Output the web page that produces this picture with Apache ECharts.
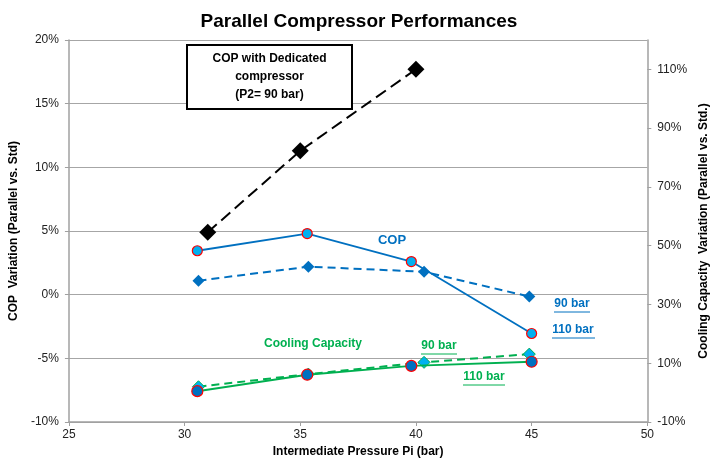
<!DOCTYPE html>
<html>
<head>
<meta charset="utf-8">
<script src="https://cdn.jsdelivr.net/npm/echarts@6/dist/echarts.min.js"></script>
<style>
  html, body { margin: 0; padding: 0; background: #fff; }
  #chart { width: 718px; height: 465px; }
</style>
</head>
<body>
<div id="chart"></div>
<script>
// pressure (bar) and variation (%)
var xDedicated = [31.0, 35.0, 40.0];
var copDedicated = [4.9, 11.3, 17.7];

var xCop110 = [30.55, 35.3, 39.8, 45.0];
var cop110 = [3.45, 4.8, 2.6, -3.05];
var xCop90 = [30.6, 35.35, 40.35, 44.9];
var cop90 = [1.1, 2.2, 1.8, -0.15];

var xCap110 = [30.55, 35.3, 39.8, 45.0];
var cap110 = [0.5, 6.1, 9.1, 10.5];
var xCap90 = [30.6, 35.35, 40.35, 44.9];
var cap90 = [2.0, 6.3, 10.3, 13.1];

var rightTicks = [-10, 10, 30, 50, 70, 90, 110];

function pairs(xs, ys) {
    return xs.map(function (x, i) { return [x, ys[i]]; });
}

var font = 'Liberation Sans, Arial, sans-serif';
var blue = '#0070c0';
var green = '#00b050';

(function () {
    var chart = echarts.init(document.getElementById('chart'));
    var option = {
        animation: false,
        textStyle: { fontFamily: font },
        title: {
            text: 'Parallel Compressor Performances',
            left: 'center',
            top: 7,
            textStyle: { fontSize: 19, fontWeight: 'bold', color: '#000', fontFamily: font }
        },
        grid: { left: 68, right: 61, top: 40, bottom: 43 },
        xAxis: {
            type: 'value',
            min: 25, max: 50, interval: 5,
            name: 'Intermediate Pressure Pi (bar)',
            nameLocation: 'middle',
            nameGap: 21,
            nameTextStyle: { fontSize: 12, fontWeight: 'bold', color: '#000' },
            axisLine: { onZero: false, lineStyle: { color: '#a0a0a0', width: 1.5 } },
            axisTick: { show: true, length: 4, lineStyle: { color: '#a0a0a0' } },
            axisLabel: { fontSize: 12, color: '#222', margin: 7 },
            splitLine: { show: false }
        },
        yAxis: [
            {
                type: 'value',
                min: -10, max: 20, interval: 5,
                name: 'COP  Variation (Parallel vs. Std)',
                nameLocation: 'middle',
                nameGap: 46,
                nameTextStyle: { fontSize: 12, fontWeight: 'bold', color: '#000' },
                axisLine: { show: true, onZero: false, lineStyle: { color: '#a0a0a0', width: 1.5 } },
                axisTick: { show: true, length: 4, lineStyle: { color: '#a0a0a0' } },
                axisLabel: { fontSize: 12, color: '#222', formatter: '{value}%', margin: 10 },
                splitLine: { show: true, lineStyle: { color: '#a6a6a6', width: 1.2 } }
            },
            {
                type: 'value',
                min: -10, max: 120,
                position: 'right',
                name: 'Cooling Capacity  Variation (Parallel vs. Std.)',
                nameLocation: 'middle',
                nameGap: 49,
                nameRotate: 90,
                nameTextStyle: { fontSize: 12, fontWeight: 'bold', color: '#000' },
                axisLine: { show: true, onZero: false, lineStyle: { color: '#a0a0a0', width: 1.5 } },
                axisTick: { show: true, length: 4, customValues: rightTicks, lineStyle: { color: '#a0a0a0' } },
                axisLabel: { fontSize: 12, color: '#222', formatter: '{value}%', margin: 10, customValues: rightTicks },
                splitLine: { show: false }
            }
        ],
        series: [
            {
                name: 'COP dedicated',
                type: 'line',
                yAxisIndex: 0,
                data: pairs(xDedicated, copDedicated),
                symbol: 'diamond',
                symbolSize: 17,
                itemStyle: { color: '#000' },
                lineStyle: { color: '#000', width: 2, type: [12, 6] },
                z: 3
            },
            {
                name: 'COP 90 bar',
                type: 'line',
                yAxisIndex: 0,
                data: pairs(xCop90, cop90),
                symbol: 'diamond',
                symbolSize: 12,
                itemStyle: { color: blue },
                lineStyle: { color: blue, width: 2, type: [8, 5] },
                z: 4
            },
            {
                name: 'COP 110 bar',
                type: 'line',
                yAxisIndex: 0,
                data: pairs(xCop110, cop110),
                symbol: 'circle',
                symbolSize: 10,
                itemStyle: { color: '#00b0f0', borderColor: '#ff0000', borderWidth: 1.2 },
                lineStyle: { color: blue, width: 1.8 },
                z: 5
            },
            {
                name: 'Capacity 90 bar',
                type: 'line',
                yAxisIndex: 1,
                data: pairs(xCap90, cap90),
                symbol: 'diamond',
                symbolSize: 12,
                itemStyle: { color: '#00b0f0', borderColor: green, borderWidth: 1 },
                lineStyle: { color: green, width: 2, type: [8, 5] },
                z: 4
            },
            {
                name: 'Capacity 110 bar',
                type: 'line',
                yAxisIndex: 1,
                data: pairs(xCap110, cap110),
                symbol: 'circle',
                symbolSize: 11,
                itemStyle: { color: blue, borderColor: '#ff0000', borderWidth: 1.2 },
                lineStyle: { color: green, width: 2 },
                z: 5
            }
        ],
        graphic: [
            {
                type: 'rect',
                shape: { x: 187, y: 45, width: 165, height: 64 },
                style: { fill: '#fff', stroke: '#000', lineWidth: 2 },
                z: 10
            },
            {
                type: 'text',
                x: 269.5, y: 77,
                style: {
                    text: 'COP with Dedicated\ncompressor\n(P2= 90 bar)',
                    fill: '#000', font: 'bold 12px ' + font,
                    align: 'center', verticalAlign: 'middle', lineHeight: 18
                },
                z: 11
            },
            { type: 'text', x: 392, y: 240, style: { text: 'COP', fill: blue, font: 'bold 13px ' + font, align: 'center', verticalAlign: 'middle' }, z: 11 },
            { type: 'text', x: 572, y: 304, style: { text: '90 bar', fill: blue, font: 'bold 12px ' + font, align: 'center', verticalAlign: 'middle' }, z: 11 },
            { type: 'line', shape: { x1: 554, y1: 312, x2: 590, y2: 312 }, style: { stroke: blue, lineWidth: 1 }, z: 11 },
            { type: 'text', x: 573, y: 330, style: { text: '110 bar', fill: blue, font: 'bold 12px ' + font, align: 'center', verticalAlign: 'middle' }, z: 11 },
            { type: 'line', shape: { x1: 552, y1: 338, x2: 595, y2: 338 }, style: { stroke: blue, lineWidth: 1 }, z: 11 },
            { type: 'text', x: 313, y: 344, style: { text: 'Cooling Capacity', fill: green, font: 'bold 12px ' + font, align: 'center', verticalAlign: 'middle' }, z: 11 },
            { type: 'text', x: 439, y: 346, style: { text: '90 bar', fill: green, font: 'bold 12px ' + font, align: 'center', verticalAlign: 'middle' }, z: 11 },
            { type: 'line', shape: { x1: 421, y1: 354, x2: 457, y2: 354 }, style: { stroke: green, lineWidth: 1 }, z: 11 },
            { type: 'text', x: 484, y: 377, style: { text: '110 bar', fill: green, font: 'bold 12px ' + font, align: 'center', verticalAlign: 'middle' }, z: 11 },
            { type: 'line', shape: { x1: 463, y1: 385, x2: 505, y2: 385 }, style: { stroke: green, lineWidth: 1 }, z: 11 }
        ]
    };
    chart.setOption(option);
    window.addEventListener('resize', chart.resize);
})();
</script>
</body>
</html>
